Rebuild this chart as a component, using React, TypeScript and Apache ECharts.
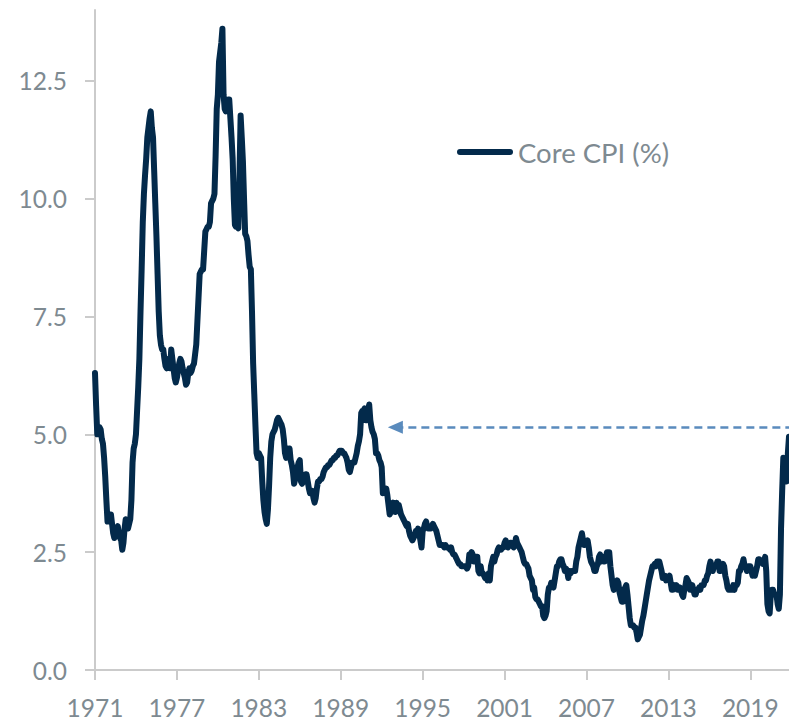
import { useEffect, useRef } from "react";
import * as echarts from "echarts";

// Monthly core CPI (% y/y), January 1971 onwards (one row per year)
const START_YEAR = 1971;
const cpi1971to1980 = [
  6.3, 5.6, 5.0, 5.0, 5.15, 5.1, 4.9, 4.8, 4.5, 4.1, 3.6, 3.15,
  3.15, 3.3, 3.3, 3.1, 2.9, 2.8, 2.9, 3.0, 3.05, 2.9, 2.8, 2.75,
  2.55, 2.7, 3.0, 3.2, 3.1, 3.0, 3.1, 3.2, 3.6, 4.4, 4.7, 4.8,
  5.0, 5.5, 6.0, 6.6, 7.6, 8.5, 9.5, 10.1, 10.5, 10.85, 11.3, 11.5,
  11.7, 11.85, 11.5, 11.3, 10.6, 9.9, 9.2, 8.4, 7.6, 7.1, 6.9, 6.8,
  6.8, 6.6, 6.45, 6.4, 6.5, 6.6, 6.4, 6.8, 6.6, 6.4, 6.2, 6.1,
  6.2, 6.35, 6.5, 6.6, 6.55, 6.4, 6.3, 6.2, 6.05, 6.1, 6.3, 6.4,
  6.3, 6.35, 6.45, 6.5, 6.7, 6.9, 7.4, 7.9, 8.4, 8.45, 8.5, 8.5,
  8.9, 9.3, 9.35, 9.4, 9.4, 9.5, 9.9, 9.95, 10.0, 10.1, 10.9, 11.9,
  12.2, 12.9, 13.1, 13.3, 13.6, 12.2, 11.9, 11.85, 12.0, 12.1, 12.1, 11.7,
];
const cpi1981to1990 = [
  11.3, 10.84, 10.0, 9.44, 9.4, 9.4, 9.37, 10.5, 11.76, 11.3, 10.8, 10.0,
  9.25, 9.2, 9.1, 8.8, 8.55, 8.5, 7.6, 6.5, 5.85, 5.2, 4.6, 4.5,
  4.6, 4.55, 4.5, 4.0, 3.6, 3.35, 3.2, 3.1, 3.4, 3.9, 4.5, 4.85,
  5.0, 5.05, 5.1, 5.2, 5.3, 5.35, 5.3, 5.25, 5.2, 5.1, 4.9, 4.6,
  4.5, 4.7, 4.6, 4.7, 4.45, 4.35, 4.2, 3.95, 4.05, 4.15, 4.3, 4.4,
  4.45, 4.0, 3.95, 4.0, 4.1, 4.15, 4.15, 4.0, 3.85, 3.75, 3.8, 3.8,
  3.65, 3.55, 3.65, 3.85, 4.0, 4.0, 4.05, 4.05, 4.1, 4.2, 4.25, 4.3,
  4.3, 4.35, 4.35, 4.4, 4.45, 4.45, 4.5, 4.5, 4.55, 4.55, 4.6, 4.65,
  4.65, 4.65, 4.6, 4.6, 4.55, 4.5, 4.4, 4.25, 4.2, 4.3, 4.4, 4.4,
  4.4, 4.5, 4.6, 4.75, 4.85, 5.0, 5.45, 5.5, 5.5, 5.55, 5.3, 5.3,
];
const cpi1991to2000 = [
  5.45, 5.63, 5.3, 5.15, 5.05, 5.0, 4.9, 4.6, 4.6, 4.55, 4.45, 4.4,
  4.3, 3.75, 3.8, 3.85, 3.85, 3.7, 3.5, 3.3, 3.35, 3.5, 3.55, 3.5,
  3.35, 3.55, 3.45, 3.5, 3.4, 3.3, 3.25, 3.2, 3.15, 3.1, 3.05, 3.1,
  2.95, 2.85, 2.8, 2.75, 2.8, 2.85, 2.95, 2.9, 3.0, 2.9, 2.75, 2.6,
  2.95, 3.0, 3.1, 3.15, 3.05, 3.0, 3.0, 3.0, 3.05, 3.1, 3.05, 3.0,
  2.95, 2.85, 2.75, 2.65, 2.65, 2.65, 2.65, 2.6, 2.65, 2.6, 2.6, 2.6,
  2.55, 2.6, 2.5, 2.45, 2.45, 2.4, 2.35, 2.3, 2.25, 2.25, 2.2, 2.2,
  2.2, 2.2, 2.2, 2.15, 2.2, 2.45, 2.45, 2.5, 2.45, 2.3, 2.35, 2.4,
  2.4, 2.1, 2.05, 2.2, 2.05, 2.05, 2.0, 1.95, 2.0, 1.9, 2.05, 1.9,
  2.2, 2.3, 2.4, 2.3, 2.4, 2.45, 2.55, 2.6, 2.55, 2.55, 2.6, 2.6,
];
const cpi2001to2010 = [
  2.7, 2.75, 2.65, 2.6, 2.65, 2.7, 2.7, 2.65, 2.6, 2.65, 2.8, 2.7,
  2.65, 2.6, 2.55, 2.5, 2.4, 2.3, 2.25, 2.25, 2.2, 2.15, 2.0, 1.95,
  1.9, 1.7, 1.75, 1.55, 1.5, 1.5, 1.45, 1.4, 1.35, 1.35, 1.15, 1.1,
  1.15, 1.25, 1.6, 1.75, 1.75, 1.85, 1.8, 1.75, 1.9, 2.05, 2.2, 2.2,
  2.3, 2.35, 2.35, 2.25, 2.2, 2.1, 2.15, 2.1, 1.95, 2.1, 2.05, 2.1,
  2.1, 2.1, 2.1, 2.3, 2.4, 2.6, 2.7, 2.8, 2.9, 2.75, 2.65, 2.7,
  2.7, 2.75, 2.6, 2.4, 2.3, 2.25, 2.2, 2.1, 2.1, 2.2, 2.25, 2.4,
  2.45, 2.3, 2.4, 2.3, 2.3, 2.4, 2.5, 2.5, 2.5, 2.2, 2.0, 1.8,
  1.7, 1.75, 1.85, 1.9, 1.85, 1.65, 1.55, 1.45, 1.45, 1.7, 1.75, 1.8,
  1.6, 1.35, 1.1, 0.95, 0.95, 0.95, 0.9, 0.9, 0.8, 0.65, 0.7, 0.75,
];
const cpi2011to2021 = [
  0.9, 1.05, 1.15, 1.3, 1.45, 1.6, 1.75, 1.9, 2.0, 2.1, 2.2, 2.2,
  2.25, 2.2, 2.3, 2.3, 2.3, 2.2, 2.1, 1.95, 2.0, 2.0, 1.9, 1.95,
  1.95, 2.0, 1.85, 1.7, 1.7, 1.8, 1.75, 1.8, 1.7, 1.7, 1.75, 1.7,
  1.6, 1.55, 1.7, 1.8, 1.95, 1.9, 1.85, 1.7, 1.7, 1.8, 1.7, 1.6,
  1.6, 1.7, 1.7, 1.75, 1.7, 1.8, 1.8, 1.8, 1.9, 1.9, 2.0, 2.05,
  2.2, 2.3, 2.2, 2.1, 2.2, 2.2, 2.2, 2.3, 2.3, 2.1, 2.1, 2.2,
  2.25, 2.2, 2.0, 1.9, 1.75, 1.7, 1.7, 1.7, 1.7, 1.8, 1.7, 1.8,
  1.8, 1.85, 2.1, 2.1, 2.2, 2.25, 2.35, 2.2, 2.2, 2.1, 2.2, 2.2,
  2.2, 2.1, 2.0, 2.05, 2.0, 2.1, 2.2, 2.35, 2.35, 2.3, 2.3, 2.25,
  2.3, 2.4, 2.1, 1.4, 1.25, 1.2, 1.6, 1.7, 1.7, 1.6, 1.6, 1.6,
  1.4, 1.3, 1.6, 3.0, 3.8, 4.5, 4.3, 4.0, 4.0, 4.6, 4.95,
];

const SERIES_NAME = "Core CPI (%)";
const xTickYears = [1971, 1977, 1983, 1989, 1995, 2001, 2007, 2013, 2019];
const yTickValues = [0, 2.5, 5, 7.5, 10, 12.5];
const Y_MAX = 14;
// dashed reference arrow: level of the latest reading, back to when it was last seen
const referenceLevel = 5.15;
const referenceStartYear = 1993.0;

const LINE_COLOR = "#032a4b";
const ARROW_COLOR = "#5a8bbd";
const AXIS_COLOR = "#cbcbcb";
const TEXT_COLOR = "#7e8a91";
const FONT = "Lato, 'Noto Sans', sans-serif";
const LEGEND_ICON =
  "path://M3,0 L53,0 A3,3 0 0 1 53,6 L3,6 A3,3 0 0 1 3,0 Z";

export default function App() {
  const ref = useRef<HTMLDivElement>(null);

  useEffect(() => {
    if (!ref.current) return;
    const chart = echarts.init(ref.current, null, { renderer: "svg" });
    const values = [
      ...cpi1971to1980,
      ...cpi1981to1990,
      ...cpi1991to2000,
      ...cpi2001to2010,
      ...cpi2011to2021,
    ];
    const data = values.map((v, i) => [START_YEAR + i / 12, v]);
    const endX = START_YEAR + (values.length - 1) / 12;

    chart.setOption({
      animation: false,
      grid: {
        left: 95,
        right: 0,
        top: 10,
        bottom: 53,
        containLabel: false,
        outerBoundsMode: "none",
      },
      legend: {
        data: [{ name: SERIES_NAME, icon: LEGEND_ICON }],
        left: 452,
        top: 133,
        itemWidth: 56,
        itemHeight: 6,
        selectedMode: false,
        itemStyle: { color: LINE_COLOR, borderWidth: 0 },
        lineStyle: { width: 0 },
        textStyle: { fontSize: 27.5, color: TEXT_COLOR, fontFamily: FONT },
      },
      xAxis: {
        type: "value",
        min: START_YEAR,
        max: endX,
        axisLine: { show: true, lineStyle: { color: AXIS_COLOR, width: 2 } },
        axisTick: {
          show: true,
          length: 10,
          customValues: xTickYears,
          lineStyle: { color: AXIS_COLOR, width: 2 },
        },
        axisLabel: {
          customValues: xTickYears,
          formatter: (v: number) => String(Math.round(v)),
          fontSize: 24.5,
          color: TEXT_COLOR,
          fontFamily: FONT,
          margin: 25,
        },
        splitLine: { show: false },
      },
      yAxis: {
        type: "value",
        min: 0,
        max: Y_MAX,
        axisLine: { show: true, lineStyle: { color: AXIS_COLOR, width: 2 } },
        axisTick: {
          show: true,
          length: 10,
          customValues: yTickValues,
          lineStyle: { color: AXIS_COLOR, width: 2 },
        },
        axisLabel: {
          customValues: yTickValues,
          formatter: (v: number) => v.toFixed(1),
          fontSize: 24.5,
          color: TEXT_COLOR,
          fontFamily: FONT,
          margin: 28,
        },
        splitLine: { show: false },
      },
      series: [
        {
          type: "line",
          name: SERIES_NAME,
          data,
          showSymbol: false,
          symbol: "none",
          color: LINE_COLOR,
          lineStyle: { color: LINE_COLOR, width: 6, join: "round", cap: "round" },
          emphasis: { disabled: true },
          markLine: {
            silent: true,
            symbol: ["triangle", "none"],
            symbolSize: [13, 15],
            label: { show: false },
            lineStyle: { color: ARROW_COLOR, width: 2.5, type: [8, 5] },
            itemStyle: { color: ARROW_COLOR },
            emphasis: { disabled: true },
            data: [
              [
                { coord: [referenceStartYear, referenceLevel] },
                { coord: [endX, referenceLevel] },
              ],
            ],
          },
        },
      ],
    });

    return () => chart.dispose();
  }, []);

  return (
    <div
      ref={ref}
      style={{ position: "absolute", left: 0, top: 0, width: 789, height: 723 }}
    />
  );
}
